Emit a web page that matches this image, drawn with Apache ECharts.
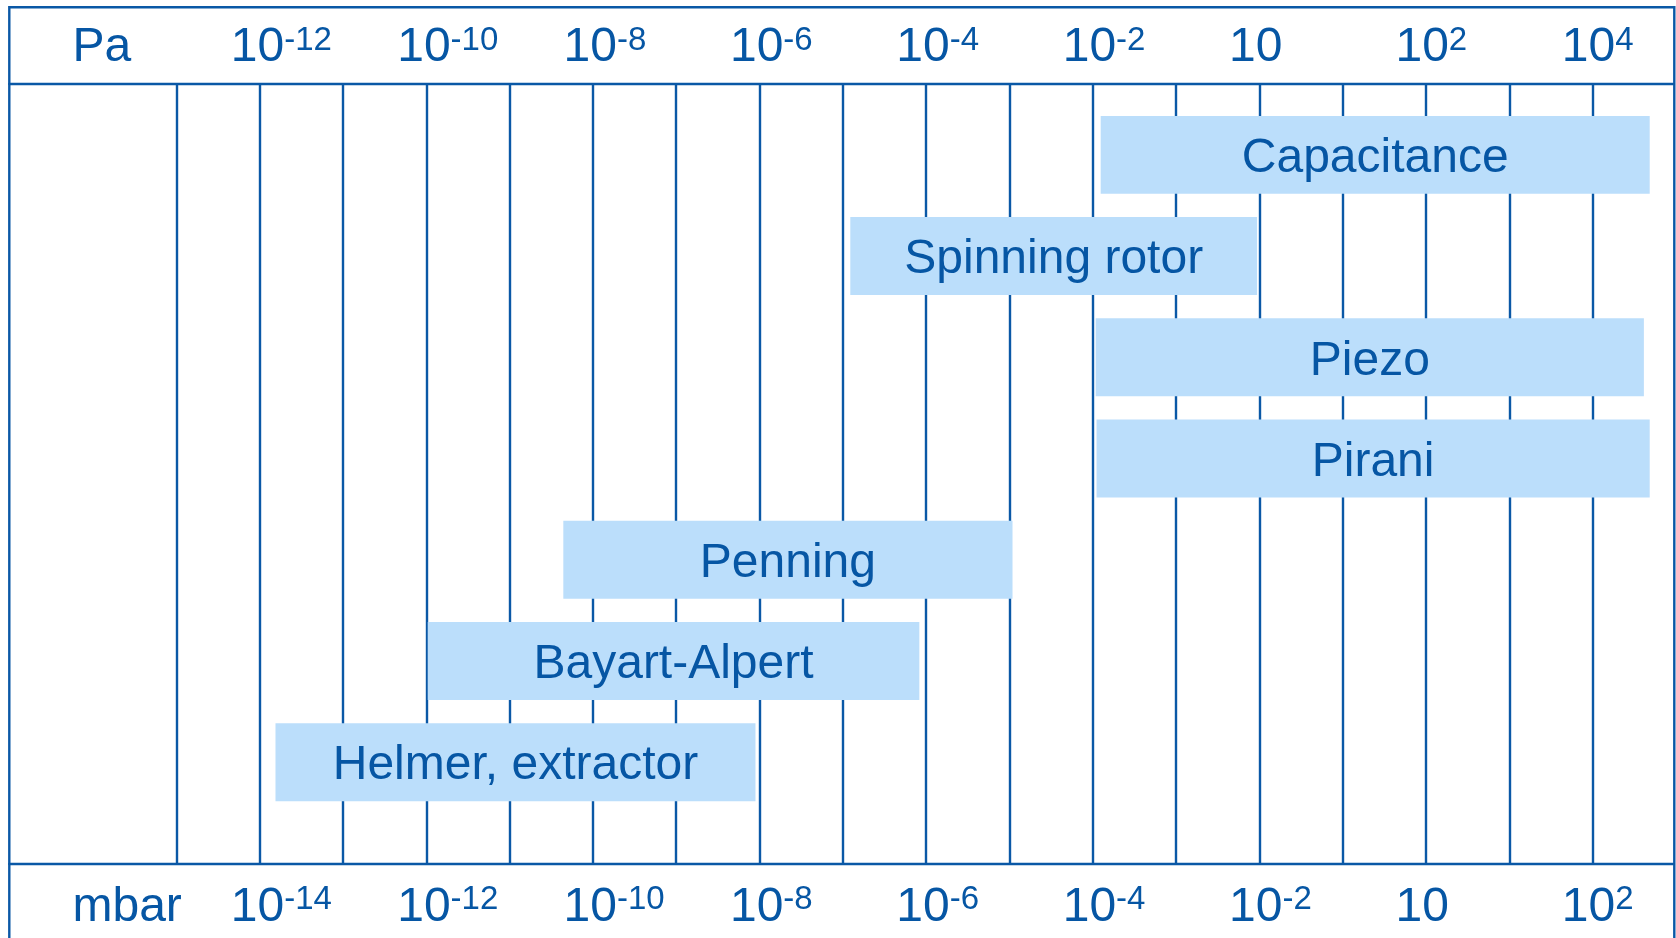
<!DOCTYPE html>
<html>
<head>
<meta charset="utf-8">
<title>Vacuum gauge measuring ranges</title>
<script src="https://cdn.jsdelivr.net/npm/echarts@6/dist/echarts.min.js"></script>
<style>
  html, body { margin: 0; padding: 0; background: #ffffff; }
  #chart { width: 1676px; height: 938px; }
</style>
</head>
<body>
<div id="chart"></div>
<script>
// Gauge types, top to bottom
const gauges = ['Capacitance', 'Spinning rotor', 'Piezo', 'Pirani', 'Penning', 'Bayart-Alpert', 'Helmer, extractor'];
// Measuring range limits, as log10(p / Pa)
const lowExp  = [-1.88, -4.89, -1.94, -1.93, -8.34, -9.97, -11.80];
const highExp = [ 4.72,  0.00,  4.65,  4.72, -2.94, -4.06,  -6.03];

// Labelled decades (log10 of Pa) and their labels on the Pa and mbar scales
const labelTicks = [-12, -10, -8, -6, -4, -2, 0, 2, 4];
const paLabels   = [['10', '-12'], ['10', '-10'], ['10', '-8'], ['10', '-6'], ['10', '-4'], ['10', '-2'], ['10', ''], ['10', '2'], ['10', '4']];
const mbarLabels = [['10', '-14'], ['10', '-12'], ['10', '-10'], ['10', '-8'], ['10', '-6'], ['10', '-4'], ['10', '-2'], ['10', ''], ['10', '2']];
const unitTick = -14;
const paUnit = 'Pa';
const mbarUnit = 'mbar';

const LINE = '#0a58a6';
const TEXT = '#0656a4';
const BAR = '#bbdefb';
const FONT = '"Liberation Sans", Arial, Helvetica, sans-serif';

const rich = {
  base: { fontSize: 48, lineHeight: 48, color: TEXT, fontFamily: FONT },
  sup:  { fontSize: 33, lineHeight: 37, color: TEXT, fontFamily: FONT, verticalAlign: 'top' },
  gap:  { width: 8, fontSize: 48, lineHeight: 48 }
};

function scaleFormatter(labels, unit) {
  return function (value) {
    const v = Math.round(value);
    if (Math.abs(value - v) > 1e-6) return '';
    if (v === unitTick) return '{gap| }{base|' + unit + '}';
    const k = labelTicks.indexOf(v);
    if (k < 0) return '';
    const [b, e] = labels[k];
    return e ? '{base|' + b + '}{sup|' + e + '}' : '{base|' + b + '}';
  };
}

function scaleAxis(position, labels, unit, margin) {
  return {
    type: 'value',
    gridIndex: 0,
    position: position,
    min: -15,
    max: 5,
    interval: 1,
    axisLine: { show: true, onZero: false, lineStyle: { color: LINE, width: 2.4 } },
    axisTick: { show: false },
    splitLine: { show: false },
    axisLabel: {
      show: true,
      showMinLabel: true,
      showMaxLabel: true,
      margin: margin,
      align: 'left',
      verticalAlign: 'middle',
      padding: [0, 0, 0, -28],
      formatter: scaleFormatter(labels, unit),
      rich: rich
    }
  };
}

const chart = echarts.init(document.getElementById('chart'), null, { renderer: 'canvas' });

chart.setOption({
  backgroundColor: '#ffffff',
  animation: false,
  grid: [
    { left: 9.3, right: 0, top: 84, bottom: 74.6 },
    { left: 176.3, right: 0, top: 84, bottom: 74.6 }
  ],
  xAxis: [
    scaleAxis('top', paLabels, paUnit, 36),
    scaleAxis('bottom', mbarLabels, mbarUnit, 44),
    {
      // decade grid lines
      type: 'value',
      gridIndex: 1,
      min: -13,
      max: 5,
      interval: 1,
      axisLine: { show: false },
      axisTick: { show: false },
      axisLabel: { show: false },
      splitLine: { show: true, showMinLine: true, showMaxLine: false, lineStyle: { color: LINE, width: 2.4 } }
    }
  ],
  yAxis: [
    { type: 'value', gridIndex: 0, inverse: true, min: -0.7, max: 7, show: false },
    { type: 'value', gridIndex: 1, min: 0, max: 1, show: false }
  ],
  graphic: [
    {
      type: 'rect',
      silent: true,
      z: 10,
      shape: { x: 9.3, y: 7.3, width: 1665, height: 1000 },
      style: { fill: 'none', stroke: LINE, lineWidth: 2.4 }
    }
  ],
  series: [
    {
      type: 'custom',
      xAxisIndex: 0,
      yAxisIndex: 0,
      clip: false,
      encode: { x: [1, 2], y: 0 },
      data: gauges.map((g, i) => [i, lowExp[i], highExp[i]]),
      renderItem: function (params, api) {
        const row = api.value(0);
        const p0 = api.coord([api.value(1), row]);
        const p1 = api.coord([api.value(2), row]);
        const h = api.size([0, 0.77])[1];
        return {
          type: 'rect',
          shape: { x: p0[0], y: p0[1] - h / 2, width: p1[0] - p0[0], height: h },
          style: { fill: BAR },
          textContent: {
            style: { text: gauges[row], fill: TEXT, fontSize: 48, fontFamily: FONT }
          },
          textConfig: { position: 'inside', offset: [0, 4] }
        };
      }
    }
  ]
});
</script>
</body>
</html>
